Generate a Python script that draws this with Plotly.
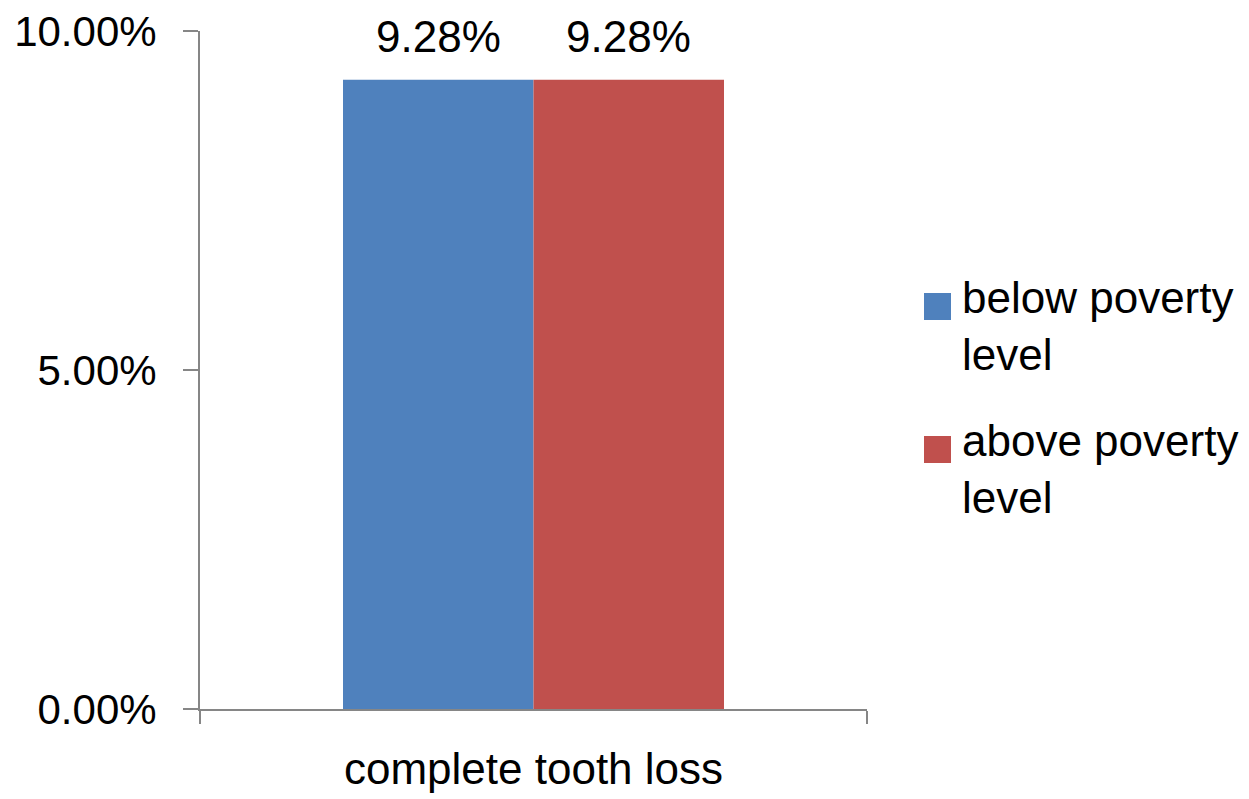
import plotly.graph_objects as go

categories = ["complete tooth loss"]
series_names = ["below poverty<br>level", "above poverty<br>level"]
series_values = [[0.0928], [0.0928]]
series_colors = ["#4F81BD", "#C0504D"]
y_ticks = [0, 0.05, 0.10]

FONT = "Liberation Sans, Arial, sans-serif"
FS = 44
W, H = 1249, 799
PX0, PX1, PY0, PY1 = 200, 867, 31, 709  # plot area in pixels
BARGAP = 0.4288

fig = go.Figure()
n = len(series_names)
cat_w = (PX1 - PX0) / len(categories)
bar_w = cat_w * (1 - BARGAP) / n
for i, (name, vals, col) in enumerate(zip(series_names, series_values, series_colors)):
    fig.add_trace(go.Bar(
        x=categories, y=vals, name=name, marker=dict(color=col, line=dict(width=0)),
        showlegend=False,
    ))
    shift = (i - (n - 1) / 2) * bar_w
    for c, v in zip(categories, vals):
        fig.add_annotation(x=c, y=v, xref="x", yref="y", text=f"{v:.2%}",
                           showarrow=False, yanchor="bottom", xanchor="center",
                           xshift=shift, yshift=17,
                           font=dict(family=FONT, size=FS, color="black"))

# custom legend (large square swatches as in the reference)
legend_x0 = 924
legend_y0 = [293, 436]
def px2paper_x(px):
    return (px - PX0) / (PX1 - PX0)
def px2paper_y(py):
    return (PY1 - py) / (PY1 - PY0)
for i, (name, col) in enumerate(zip(series_names, series_colors)):
    y0 = legend_y0[i]
    fig.add_shape(type="rect", xref="paper", yref="paper",
                  x0=px2paper_x(legend_x0), x1=px2paper_x(legend_x0 + 27),
                  y0=px2paper_y(y0), y1=px2paper_y(y0 + 27),
                  fillcolor=col, line=dict(width=0))
    fig.add_annotation(xref="paper", yref="paper", x=px2paper_x(960),
                       y=px2paper_y(y0 - 22), xanchor="left", yanchor="top",
                       text=name, showarrow=False, align="left",
                       font=dict(family=FONT, size=FS, color="black"))

fig.update_layout(
    width=W, height=H, autosize=False,
    margin=dict(l=PX0, r=W - PX1, t=PY0, b=H - PY1, pad=0),
    paper_bgcolor="white", plot_bgcolor="white",
    barmode="group", bargap=BARGAP, bargroupgap=0,
    font=dict(family=FONT, size=FS, color="black"),
    showlegend=False,
)
fig.update_yaxes(
    range=[0, 0.10], tickvals=y_ticks, tickformat=".2%", automargin=False,
    showgrid=False, zeroline=False, showline=True, linecolor="#868686", linewidth=2,
    ticks="outside", ticklen=15, tickwidth=2, tickcolor="#868686",
    ticklabelstandoff=18, tickfont=dict(family=FONT, size=42, color="black"),
)
fig.update_xaxes(
    automargin=False,
    showgrid=False, showline=True, linecolor="#868686", linewidth=2,
    ticks="outside", ticklen=13, tickwidth=2, tickcolor="#868686", tickson="boundaries",
    ticklabelstandoff=20, tickfont=dict(family=FONT, size=FS, color="black"),
)

fig.write_html("out.html")
